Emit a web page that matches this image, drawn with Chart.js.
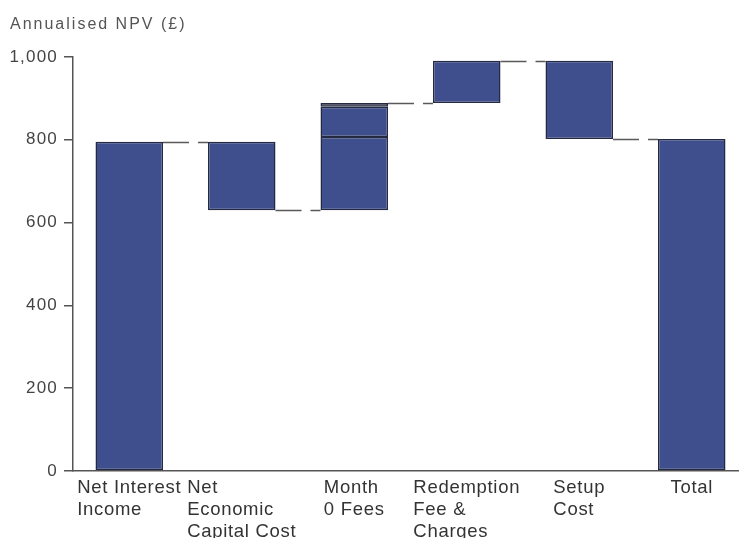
<!DOCTYPE html>
<html>
<head>
<meta charset="utf-8">
<script src="https://cdn.jsdelivr.net/npm/chart.js@4/dist/chart.umd.min.js"></script>
<style>
  html, body { margin: 0; padding: 0; background: #fff; overflow: hidden; }
  #wrap { width: 748px; height: 538px; }
</style>
</head>
<body>
<div id="wrap"><canvas id="npv" width="748" height="538"></canvas></div>
<script>
// values (annualised NPV, £)
const categories = [
  ['Net Interest', 'Income'],
  ['Net', 'Economic', 'Capital Cost'],
  ['Month', '0 Fees'],
  ['Redemption', 'Fee &', 'Charges'],
  ['Setup', 'Cost'],
  ['Total']
]
const netInterestIncome = 795
const capitalCost = -165
const month0Fees = [177, 73, 9]   // three stacked pieces
const redemptionFees = 102
const setupCost = -189
const total = 802
const yTicks = [0, 200, 400, 600, 800, 1000]

const FONT = "'Liberation Sans', Arial, sans-serif"
const FILL = '#3f4e8c'
const EDGE = '#242a42'
const AXIS = '#555'

// build floating bars from running totals
let level = netInterestIncome
const main = [[0, level]]
const levels = [level]
main.push([level + capitalCost, level])
level += capitalCost
levels.push(level)

const piece2 = [null, null, null, null, null, null]
const piece3 = [null, null, null, null, null, null]
let m = level
main.push([m, m + month0Fees[0]])
m += month0Fees[0]
piece2[2] = [m, m + month0Fees[1]]
m += month0Fees[1]
piece3[2] = [m, m + month0Fees[2]]
m += month0Fees[2]
level = m
levels.push(level)

main.push([level, level + redemptionFees])
level += redemptionFees
levels.push(level)

main.push([level + setupCost, level])
level += setupCost
levels.push(level)

main.push([0, total])

const barStyle = {
  backgroundColor: FILL,
  borderColor: EDGE,
  borderWidth: 1.5,
  borderSkipped: false,
  grouped: false,
  barPercentage: 0.6,
  categoryPercentage: 1
}

// dashed connectors between bars
const connectors = {
  id: 'connectors',
  afterDatasetsDraw(chart) {
    const ctx = chart.ctx
    const bars = chart.getDatasetMeta(0).data
    const y = chart.scales.y
    ctx.save()
    ctx.strokeStyle = '#5a5a5a'
    ctx.lineWidth = 1.5
    ctx.setLineDash([26, 9])
    for (let i = 0; i < levels.length; i++) {
      const a = bars[i], b = bars[i + 1]
      const py = Math.round(y.getPixelForValue(levels[i])) + 0.5
      ctx.beginPath()
      ctx.moveTo(a.x + a.width / 2, py)
      ctx.lineTo(b.x - b.width / 2, py)
      ctx.stroke()
    }
    ctx.restore()
  }
}

// spaced text for ticks, title and wrapped category labels
const texts = {
  id: 'texts',
  beforeDraw(chart) {
    chart.ctx.letterSpacing = '1.2px'
  },
  beforeDatasetsDraw(chart) {
    chart.ctx.letterSpacing = '0px'
  },
  afterDraw(chart) {
    const ctx = chart.ctx
    const x = chart.scales.x
    ctx.save()
    ctx.fillStyle = '#555'
    ctx.font = '16px ' + FONT
    ctx.letterSpacing = '2px'
    ctx.textAlign = 'left'
    ctx.textBaseline = 'alphabetic'
    ctx.fillText('Annualised NPV (£)', 10, 29)

    ctx.fillStyle = '#333'
    ctx.font = '18.5px ' + FONT
    ctx.letterSpacing = '0.7px'
    categories.forEach((lines, i) => {
      const cx = x.getPixelForValue(i)
      const w = Math.max(...lines.map(s => ctx.measureText(s).width))
      lines.forEach((s, k) => {
        ctx.fillText(s, cx - w / 2, chart.chartArea.bottom + 22 + 22 * k)
      })
    })
    ctx.restore()
  }
}

new Chart(document.getElementById('npv'), {
  type: 'bar',
  data: {
    labels: categories,
    datasets: [
      Object.assign({ data: main }, barStyle),
      Object.assign({ data: piece2 }, barStyle),
      Object.assign({}, barStyle, { data: piece3, backgroundColor: EDGE })
    ]
  },
  options: {
    responsive: false,
    animation: false,
    layout: { padding: { left: 10, top: 57, right: 0, bottom: 0 } },
    plugins: {
      legend: { display: false },
      tooltip: { enabled: false },
      title: { display: false }
    },
    scales: {
      x: {
        grid: { display: false },
        ticks: { display: false },
        border: { display: true, color: AXIS, width: 1.5 },
        afterFit(scale) { scale.height = 67 }
      },
      y: {
        min: 0,
        max: 1000,
        afterBuildTicks(scale) { scale.ticks = yTicks.map(v => ({ value: v })) },
        grid: { display: true, drawOnChartArea: false, drawTicks: true, tickLength: 9, color: AXIS, lineWidth: 1.5 },
        border: { display: true, color: AXIS, width: 1.5 },
        ticks: { color: '#444', font: { family: FONT, size: 17 }, padding: 6 },
        afterFit(scale) { scale.width = 63 }
      }
    }
  },
  plugins: [connectors, texts]
})
</script>
</body>
</html>
